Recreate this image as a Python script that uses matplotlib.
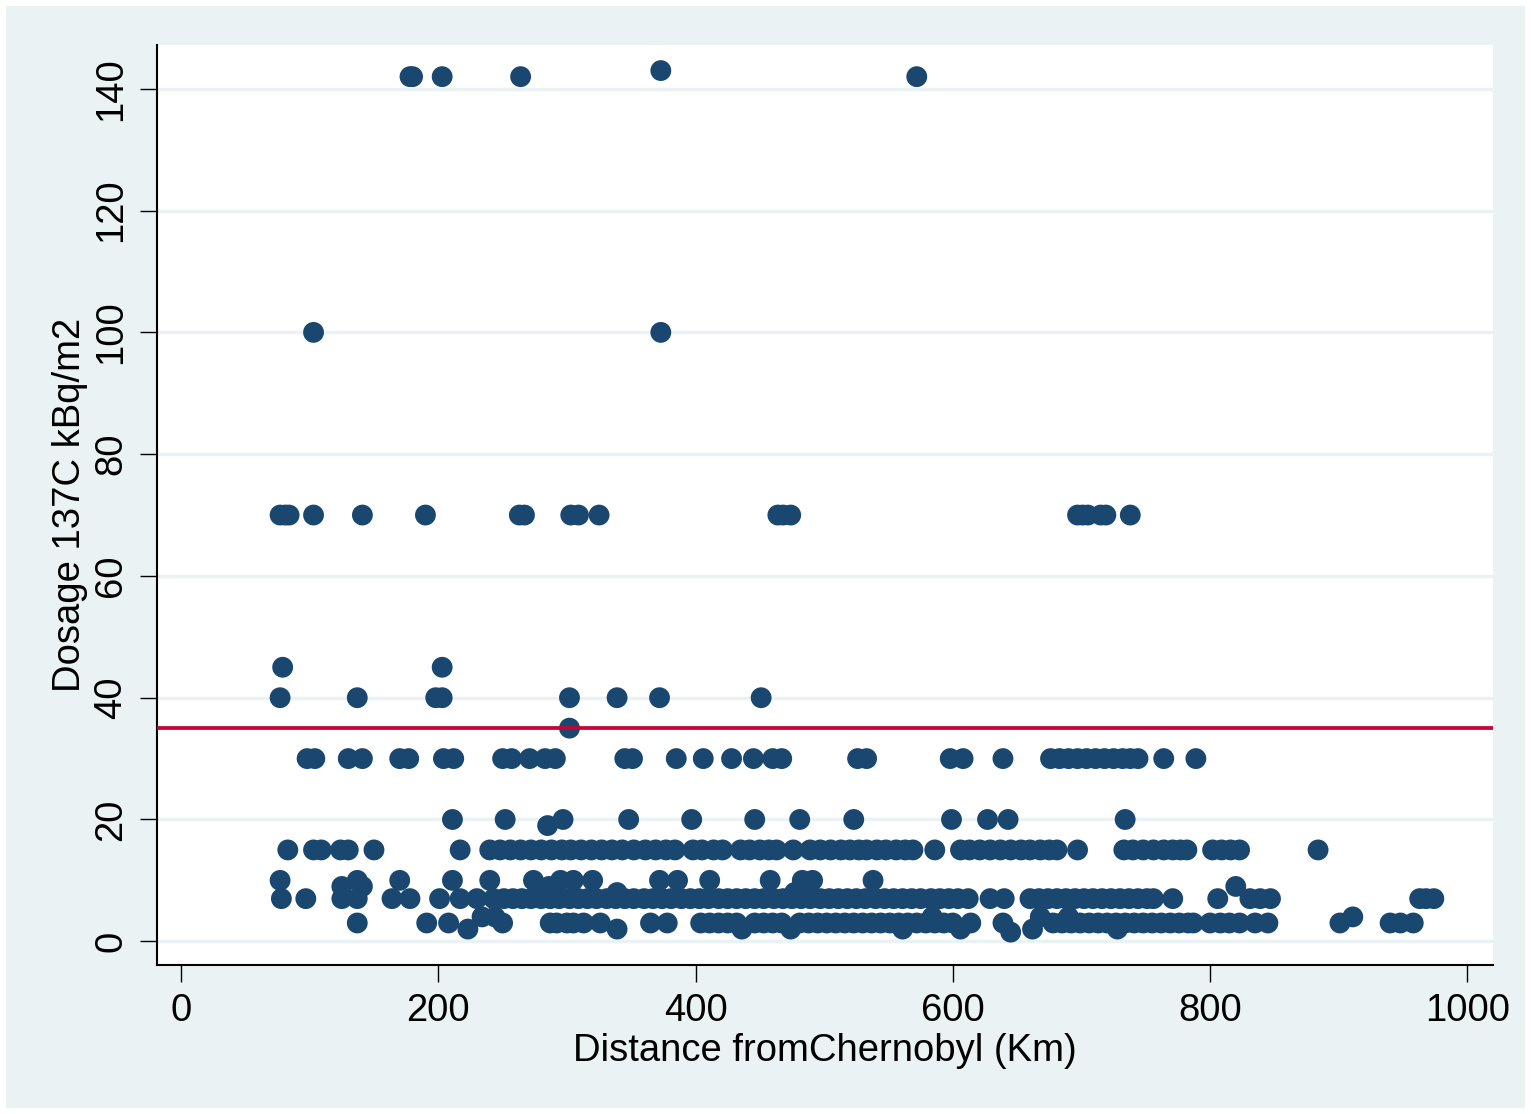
import numpy as np
import matplotlib.pyplot as plt
from matplotlib.patches import Rectangle

plt.rcParams['font.family'] = ['Liberation Sans', 'DejaVu Sans']

# distances (km) of the points, grouped by dosage level (kBq/m2)
d143 = [373]
d142 = [178, 180, 203, 264, 572]
d100 = [103, 373]
d70 = [77, 81, 84, 103, 141, 190, 263, 267, 303, 309, 325, 464, 468, 474,
       697, 701, 705, 715, 719, 738]
d45 = [79, 203]
d40 = [77, 137, 198, 203, 302, 339, 372, 451]
d35 = [302]
d30 = [98, 104, 130, 141, 170, 177, 204, 212, 250, 257, 271, 283, 291, 345,
       351, 385, 406, 428, 445, 460, 467, 526, 533, 598, 608, 639, 676, 683,
       690, 697, 704, 711, 718, 725, 732, 738, 744, 764, 789]
d20 = [211, 252, 297, 348, 397, 446, 481, 523, 599, 627, 643, 734]
d19 = [285]
d15 = [83, 103, 109, 124, 130, 150, 217, 240, 248, 256, 264, 272, 280, 288,
       296, 303, 311, 319, 327, 335, 343, 352, 361, 369, 377, 384, 398, 405,
       414, 421, 435, 442, 450, 457, 463, 476, 489, 497, 505, 513, 520, 527,
       533, 541, 548, 556, 563, 569, 586, 606, 613, 621, 629, 637, 645, 653,
       660, 668, 675, 681, 697, 733, 740, 748, 756, 764, 771, 777, 782, 802,
       809, 816, 823, 884]
d10 = [77, 137, 170, 211, 240, 274, 295, 305, 320, 372, 386, 411, 458, 483,
       491, 538]
d9 = [125, 141, 286, 820]
d8 = [339, 477]
d7 = [78, 97, 125, 137, 164, 178, 201, 217, 230, 243, 251, 258, 265, 272,
      280, 287, 294, 302, 309, 316, 323, 331, 338, 345, 352, 360, 367, 374,
      381, 389, 396, 403, 410, 418, 425, 432, 439, 446, 453, 461, 468, 475,
      482, 489, 497, 504, 511, 518, 525, 532, 540, 547, 554, 561, 568, 575,
      583, 590, 597, 604, 612, 629, 640, 660, 667, 674, 681, 688, 695, 702,
      709, 716, 723, 730, 737, 744, 751, 756, 771, 806, 831, 839, 847, 963,
      968, 974]
d4 = [234, 244, 584, 668, 690, 911]
d3 = [137, 191, 208, 250, 287, 292, 300, 305, 313, 326, 365, 378, 404, 411,
      418, 425, 432, 446, 453, 460, 467, 481, 488, 495, 502, 509, 516, 523,
      530, 537, 544, 551, 558, 565, 572, 579, 586, 593, 600, 614, 639, 678,
      685, 692, 699, 706, 713, 720, 727, 734, 741, 748, 755, 762, 769, 776,
      783, 787, 800, 808, 815, 823, 835, 845, 901, 940, 948, 958]
d2 = [223, 339, 436, 474, 561, 606, 662, 728]
d1_5 = [645]

groups = [(143, d143), (142, d142), (100, d100), (70, d70), (45, d45),
          (40, d40), (35, d35), (30, d30), (20, d20), (19, d19), (15, d15),
          (10, d10), (9, d9), (8, d8), (7, d7), (4, d4), (3, d3),
          (2, d2), (1.5, d1_5)]
x = np.concatenate([np.array(d, float) for _, d in groups])
y = np.concatenate([np.full(len(d), v, float) for v, d in groups])

threshold = 35

fig = plt.figure(figsize=(15.31, 11.14), dpi=100, facecolor='white')
fig.patches.append(Rectangle((6 / 1531, 6 / 1114), 1 - 12 / 1531, 1 - 12 / 1114,
                             transform=fig.transFigure, facecolor='#EAF2F3',
                             edgecolor='none', zorder=-10))
ax = fig.add_axes([157 / 1531, 1 - 965 / 1114, (1493 - 157) / 1531, (965 - 45) / 1114])
ax.set_facecolor('white')

ax.set_xlim(-18.7, 1020)
ax.set_ylim(-3.9, 147.2)
ax.set_yticks(range(0, 141, 20))
ax.set_xticks(range(0, 1001, 200))
ax.grid(axis='y', color='#EAF2F3', linewidth=2.5, zorder=0)
ax.set_axisbelow(True)

ax.scatter(x, y, s=225, color='#1A476F', edgecolors='none', zorder=3)
ax.axhline(threshold, color='#C10534', linewidth=2.7, zorder=4)

for side in ['top', 'right']:
    ax.spines[side].set_visible(False)
for side in ['left', 'bottom']:
    ax.spines[side].set_linewidth(1.5)

ax.tick_params(axis='both', length=12, width=1.0, labelsize=27.5, pad=8)
plt.setp(ax.get_yticklabels(), rotation=90, va='center')

ax.set_xlabel('Distance fromChernobyl (Km)', fontsize=27.5, labelpad=3)
ax.set_ylabel('Dosage 137C kBq/m2', fontsize=27.5, labelpad=4)

fig.savefig('out.png', dpi=100, facecolor=fig.get_facecolor())
